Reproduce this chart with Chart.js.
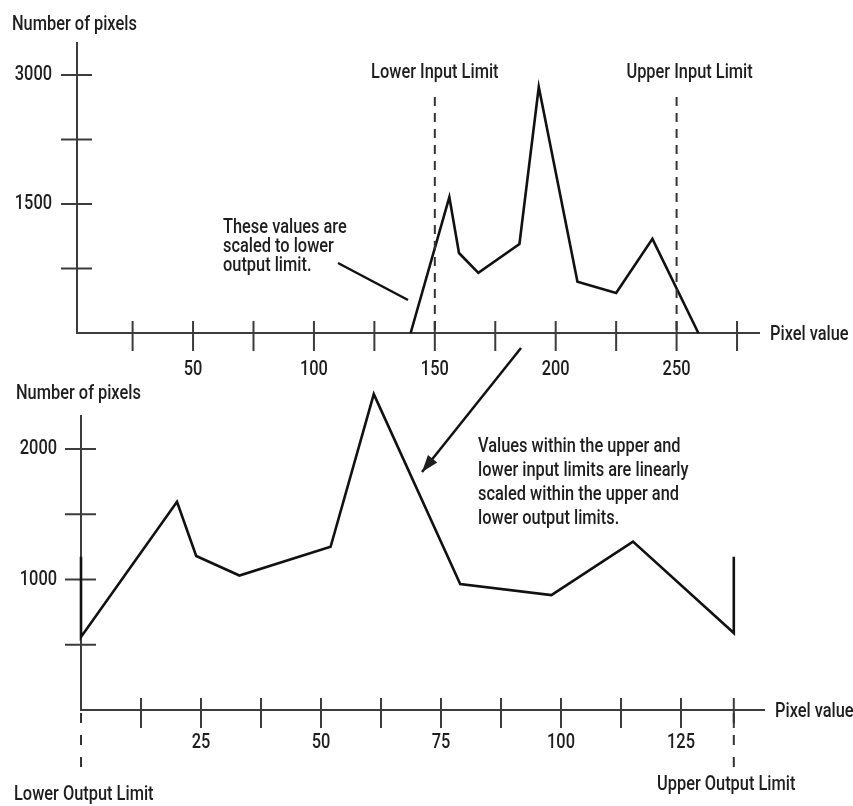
<!DOCTYPE html>
<html>
<head>
<meta charset="utf-8">
<script src="https://cdn.jsdelivr.net/npm/chart.js@4.4.1/dist/chart.umd.min.js"></script>
<style>
html, body { margin: 0; padding: 0; background: #fff; }
#wrap { position: relative; width: 853px; height: 806px; }
canvas { position: absolute; left: 0; }
#topChart { top: 0; }
#bottomChart { top: 330px; }
</style>
</head>
<body>
<div id="wrap">
  <canvas id="topChart" width="853" height="390"></canvas>
  <canvas id="bottomChart" width="853" height="476"></canvas>
</div>
<script>
// input histogram (before scaling)
const topPixelValues = [140, 156, 160, 168, 185, 193, 209, 225, 240, 259];
const topCounts = [0, 1580, 930, 700, 1035, 2860, 595, 465, 1095, 0];
const topXTicks = [25, 50, 75, 100, 125, 150, 175, 200, 225, 250, 275];
const topXLabels = [50, 100, 150, 200, 250];
const topYTicks = [750, 1500, 2250, 3000];
const topYLabels = [1500, 3000];
const inputLimits = [150, 250];
const inputLimitNames = ['Lower Input Limit', 'Upper Input Limit'];

// output histogram (after scaling)
const bottomPixelValues = [0, 0, 20, 24, 33, 52, 61, 79, 98, 115, 136, 136];
const bottomCounts = [1175, 560, 1595, 1180, 1030, 1250, 2420, 965, 880, 1290, 590, 1175];
const bottomXTicks = [12.5, 25, 37.5, 50, 62.5, 75, 87.5, 100, 112.5, 125, 136];
const bottomXLabels = [25, 50, 75, 100, 125];
const bottomYTicks = [500, 1000, 1500, 2000];
const bottomYLabels = [1000, 2000];
const outputLimits = [0, 136];

const FONT = '500 21px Roboto, "Liberation Sans", sans-serif';
const SQUEEZE = 0.78; // condensed look
const INK = '#1e1e1e';
const AXIS = '#3c3c3c';

function toPoints(xs, ys) {
    return xs.map((v, i) => ({x: v, y: ys[i]}));
}

// draws text squeezed horizontally
function say(ctx, text, x, y, align) {
    const w = ctx.measureText(text).width * SQUEEZE;
    const left = align === 'center' ? x - w / 2 : align === 'right' ? x - w : x;
    ctx.save();
    ctx.translate(left, y);
    ctx.scale(SQUEEZE, 1);
    ctx.textAlign = 'left';
    ctx.fillText(text, 0, 0);
    ctx.restore();
}

function sayLines(ctx, lines, x, y, step) {
    lines.forEach((t, i) => say(ctx, t, x, y + i * step));
}

// axes with ticks that cross the axis line
function axesPlugin(opt) {
    return {
        id: 'axes',
        beforeDatasetsDraw(chart) {
            const {ctx, chartArea: a, scales: {x, y}} = chart;
            ctx.save();
            ctx.strokeStyle = AXIS;
            ctx.lineWidth = 2;
            ctx.beginPath();
            ctx.moveTo(a.left, a.top);
            ctx.lineTo(a.left, a.bottom);
            ctx.lineTo(a.right, a.bottom);
            opt.xTicks.forEach(v => {
                const px = x.getPixelForValue(v);
                ctx.moveTo(px, a.bottom - 12);
                ctx.lineTo(px, a.bottom + 18);
            });
            opt.yTicks.forEach(v => {
                const py = y.getPixelForValue(v);
                ctx.moveTo(a.left - 16, py);
                ctx.lineTo(a.left + 15, py);
            });
            ctx.stroke();

            ctx.fillStyle = INK;
            ctx.font = FONT;
            ctx.textBaseline = 'middle';
            opt.xLabels.forEach(v => say(ctx, String(v), x.getPixelForValue(v), a.bottom + opt.xLabelGap, 'center'));
            opt.yLabels.forEach(v => say(ctx, String(v), a.left - opt.yLabelGap, y.getPixelForValue(v), 'right'));
            say(ctx, 'Pixel value', a.right + 10, a.bottom + 2);
            ctx.textBaseline = 'alphabetic';
            say(ctx, 'Number of pixels', opt.titleX, opt.titleY);
            ctx.restore();
        },
        afterDatasetsDraw(chart) {
            opt.extra(chart);
        }
    };
}

const baseOptions = (pad, xMin, xMax, yMax) => ({
    responsive: false,
    animation: false,
    layout: {padding: pad},
    plugins: {legend: {display: false}, tooltip: {enabled: false}},
    scales: {
        x: {type: 'linear', display: false, min: xMin, max: xMax},
        y: {type: 'linear', display: false, min: 0, max: yMax}
    }
});

const lineDataset = (xs, ys) => ({
    data: toPoints(xs, ys),
    borderColor: '#111',
    borderWidth: 2.6,
    borderJoinStyle: 'miter',
    pointRadius: 0,
    tension: 0,
    fill: false,
    clip: false
});

new Chart(document.getElementById('topChart'), {
    type: 'line',
    data: {datasets: [lineDataset(topPixelValues, topCounts)]},
    options: baseOptions({left: 77, top: 42, right: 93, bottom: 57}, 2, 284.5, 3384),
    plugins: [axesPlugin({
        xTicks: topXTicks, xLabels: topXLabels, yTicks: topYTicks, yLabels: topYLabels,
        xLabelGap: 37, yLabelGap: 25, titleX: 12, titleY: 30,
        extra(chart) {
            const {ctx, chartArea: a, scales: {x, y}} = chart;
            ctx.save();
            // input limits
            ctx.strokeStyle = '#333';
            ctx.lineWidth = 2;
            ctx.setLineDash([9, 7]);
            ctx.beginPath();
            inputLimits.forEach(v => {
                const px = x.getPixelForValue(v);
                ctx.moveTo(px, y.getPixelForValue(2744));
                ctx.lineTo(px, a.bottom);
            });
            ctx.stroke();
            ctx.setLineDash([]);
            ctx.fillStyle = INK;
            ctx.font = FONT;
            say(ctx, inputLimitNames[0], x.getPixelForValue(inputLimits[0]), 78, 'center');
            say(ctx, inputLimitNames[1], x.getPixelForValue(inputLimits[1]) + 13, 78, 'center');
            // note + leader line
            sayLines(ctx, ['These values are', 'scaled to lower', 'output limit.'], 223, 233, 19);
            ctx.strokeStyle = '#111';
            ctx.lineWidth = 2.5;
            ctx.beginPath();
            ctx.moveTo(338, 263);
            ctx.lineTo(408, 300);
            ctx.stroke();
            ctx.restore();
        }
    })]
});

new Chart(document.getElementById('bottomChart'), {
    type: 'line',
    data: {datasets: [lineDataset(bottomPixelValues, bottomCounts)]},
    options: baseOptions({left: 81, top: 85, right: 88, bottom: 96}, 0, 142.5, 2260),
    plugins: [axesPlugin({
        xTicks: bottomXTicks, xLabels: bottomXLabels, yTicks: bottomYTicks, yLabels: bottomYLabels,
        xLabelGap: 33, yLabelGap: 24, titleX: 16, titleY: 69,
        extra(chart) {
            const {ctx, chartArea: a, scales: {x}} = chart;
            ctx.save();
            // output limits below the axis
            ctx.strokeStyle = '#333';
            ctx.lineWidth = 2;
            ctx.setLineDash([10, 12]);
            ctx.beginPath();
            outputLimits.forEach(v => {
                const px = x.getPixelForValue(v);
                ctx.moveTo(px, a.bottom + 3);
                ctx.lineTo(px, a.bottom + 58);
            });
            ctx.stroke();
            ctx.setLineDash([]);
            ctx.fillStyle = INK;
            ctx.font = FONT;
            say(ctx, 'Lower Output Limit', 14, 470);
            say(ctx, 'Upper Output Limit', 657, 460);
            sayLines(ctx, [
                'Values within the upper and',
                'lower input limits are linearly',
                'scaled within the upper and',
                'lower output limits.'
            ], 478, 122, 24);
            // arrow from the top histogram down to this one
            const x0 = 521, y0 = 18, x1 = 422, y1 = 142;
            ctx.strokeStyle = '#111';
            ctx.lineWidth = 2.5;
            ctx.beginPath();
            ctx.moveTo(x0, y0);
            ctx.lineTo(x1, y1);
            ctx.stroke();
            const ang = Math.atan2(y1 - y0, x1 - x0);
            ctx.beginPath();
            ctx.moveTo(x1, y1);
            ctx.lineTo(x1 - 17 * Math.cos(ang) + 6 * Math.sin(ang), y1 - 17 * Math.sin(ang) - 6 * Math.cos(ang));
            ctx.lineTo(x1 - 17 * Math.cos(ang) - 6 * Math.sin(ang), y1 - 17 * Math.sin(ang) + 6 * Math.cos(ang));
            ctx.closePath();
            ctx.fill();
            ctx.restore();
        }
    })]
});
</script>
</body>
</html>
